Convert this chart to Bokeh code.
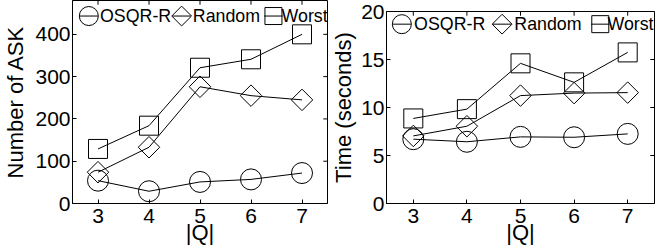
import math
from bokeh.plotting import figure
from bokeh.layouts import row
from bokeh.models import Range1d, FixedTicker
from bokeh.embed import file_html
from bokeh.resources import INLINE
from bokeh.core.properties import value

# ---------------- data ----------------
q = [3, 4, 5, 6, 7]
series_names = ["OSQR-R", "Random", "Worst"]

ask_osqr = [54, 29, 51, 57, 72]
ask_random = [74, 133, 276, 255, 245]
ask_worst = [129, 184, 321, 341, 400]

time_osqr = [6.7, 6.43, 6.94, 6.9, 7.25]
time_random = [7.04, 8.05, 11.24, 11.5, 11.55]
time_worst = [8.86, 9.83, 14.6, 12.62, 15.74]

ask_ticks = [0, 100, 200, 300, 400]
time_ticks = [0, 5, 10, 15, 20]

x_label = "|Q|"

# ---------------- style / layout ----------------
FONT = "Liberation Sans"
MARKERS = ["circle", "square", "square"]
ANGLES = [0, math.pi / 4, 0]
SIZES = [21, 15.2, 19]
LEG_SIZES = [19, 14, 17]
FIG_H = 249
TICK_LEN = 8.4  # mirrored tick markers (half is visible inside the frame)


def make_fig(series, ymax, yticks, ylabel, width, borders, yls,
             leg_box, leg_glyph_x, leg_text_x, leg_y):
    bl, br, bt, bb = borders
    p = figure(width=width, height=FIG_H,
               x_range=Range1d(2.5, 7.5), y_range=Range1d(0, ymax),
               output_backend="svg", toolbar_location=None,
               min_border_left=bl, min_border_right=br,
               min_border_top=bt, min_border_bottom=bb)
    p.frame_align = False
    p.xgrid.visible = False
    p.ygrid.visible = False
    p.outline_line_color = "black"
    p.outline_line_alpha = 1.0
    p.outline_line_width = 1
    p.background_fill_color = "white"
    p.border_fill_color = "white"

    p.xaxis.ticker = FixedTicker(ticks=q)
    p.yaxis.ticker = FixedTicker(ticks=yticks)
    for ax in (p.xaxis[0], p.yaxis[0]):
        ax.axis_line_color = "black"
        ax.major_tick_line_color = "black"
        ax.major_tick_in = 4
        ax.major_tick_out = 0
        ax.minor_tick_line_color = None
        ax.major_label_text_font = FONT
        ax.major_label_text_font_size = "21px"
        ax.major_label_text_color = "black"
        ax.axis_label_text_font = FONT
        ax.axis_label_text_font_size = "22px"
        ax.axis_label_text_font_style = "normal"
        ax.axis_label_text_color = "black"
    p.xaxis.axis_label = x_label
    p.yaxis.axis_label = ylabel
    p.xaxis.major_label_standoff = 5
    p.xaxis.axis_label_standoff = -6
    p.yaxis.major_label_standoff = 2
    p.yaxis.axis_label_standoff = yls

    # mirrored ticks on the right and top edges of the box
    p.scatter([p.x_range.end] * len(yticks), yticks, marker="dash", size=TICK_LEN,
              line_color="black", line_width=1)
    p.scatter(q, [ymax] * len(q), marker="dash", angle=math.pi / 2, size=TICK_LEN,
              line_color="black", line_width=1)

    for ys, mk, ang, sz in zip(series, MARKERS, ANGLES, SIZES):
        p.line(q, ys, line_color="black", line_width=1)
        p.scatter(q, ys, marker=mk, angle=ang, size=sz, fill_color=None,
                  line_color="black", line_width=1)

    # legend (drawn inside the frame, in frame-relative coordinates, y from top)
    lw, lh = leg_box
    p.extra_x_ranges = {"leg": Range1d(0, lw)}
    p.extra_y_ranges = {"leg": Range1d(lh, 0)}
    for name, mk, ang, sz, gx, tx in zip(series_names, MARKERS, ANGLES, LEG_SIZES,
                                         leg_glyph_x, leg_text_x):
        p.segment(x0=[gx - 9], x1=[gx + 9], y0=[leg_y], y1=[leg_y], line_color="black",
                  line_width=1, x_range_name="leg", y_range_name="leg")
        p.scatter([gx], [leg_y], marker=mk, angle=ang, size=sz, fill_color=None,
                  line_color="black", line_width=1, x_range_name="leg", y_range_name="leg")
        p.text([tx], [leg_y], text=[name], text_font=value(FONT), text_font_size="17.8px",
               text_baseline="middle", text_align="left", text_color="black",
               x_range_name="leg", y_range_name="leg")
    return p


p1 = make_fig([ask_osqr, ask_random, ask_worst], 480, ask_ticks, "Number of ASK",
              328, (68, 1, 0, 46), 4, (250, 196),
              [16, 107, 197], [27, 118, 205], 15)
p2 = make_fig([time_osqr, time_random, time_worst], 20, time_ticks, "Time (seconds)",
              329, (54, 3, 11, 46), 2, (262, 197),
              [15, 113, 209], [27, 125, 216], 13)

layout = row(p1, p2)
open("out.html", "w").write(file_html(layout, INLINE))
